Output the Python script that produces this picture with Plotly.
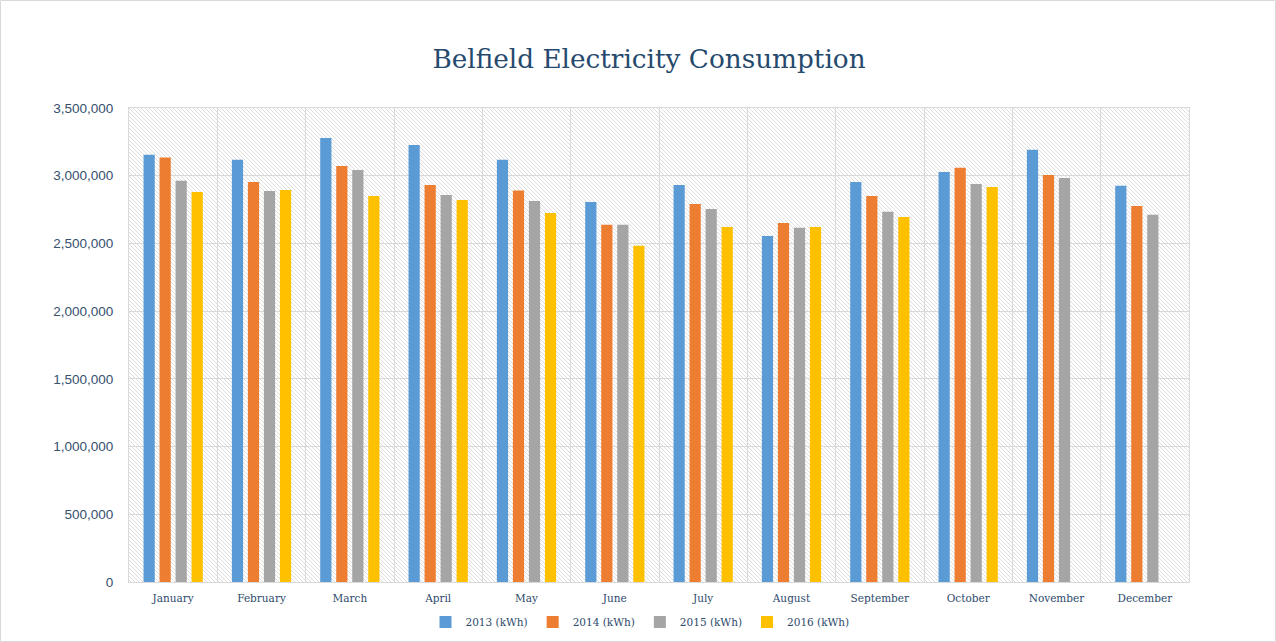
import plotly.graph_objects as go
import urllib.parse

months = ["January", "February", "March", "April", "May", "June", "July",
          "August", "September", "October", "November", "December"]
series_names = ["2013 (kWh)", "2014 (kWh)", "2015 (kWh)", "2016 (kWh)"]
values_2013 = [3154000, 3117000, 3279000, 3227000, 3117000, 2806000, 2932000,
               2555000, 2954000, 3028000, 3191000, 2925000]
values_2014 = [3134000, 2954000, 3072000, 2932000, 2890000, 2637000, 2792000,
               2651000, 2851000, 3058000, 3006000, 2777000]
values_2015 = [2962000, 2888000, 3043000, 2858000, 2814000, 2637000, 2755000,
               2615000, 2733000, 2939000, 2984000, 2711000]
values_2016 = [2880000, 2895000, 2851000, 2821000, 2725000, 2482000, 2622000,
               2622000, 2696000, 2917000, None, None]
colors = ["#5b9bd5", "#ed7d31", "#a5a5a5", "#ffc000"]

W, H = 1276, 642
ML, MR, MT, MB = 129, 87, 108, 60
PW, PH = W - ML - MR, H - MT - MB

fig = go.Figure()
for name, vals, col in zip(series_names, [values_2013, values_2014, values_2015, values_2016], colors):
    fig.add_trace(go.Bar(x=months, y=vals, name=name, marker=dict(color=col, line=dict(width=0))))

# hatch background for the plot area
svg = (f"<svg xmlns='http://www.w3.org/2000/svg' width='{PW}' height='{PH}' viewBox='0 0 {PW} {PH}' preserveAspectRatio='none'>"
       "<defs><pattern id='p' width='4' height='4' patternUnits='userSpaceOnUse'>"
       "<path d='M-1,-1 L5,5 M-1,3 L1,5 M3,-1 L5,1' stroke='#d4d4d4' stroke-width='0.8'/>"
       "</pattern></defs><rect width='100%' height='100%' fill='white'/>"
       "<rect width='100%' height='100%' fill='url(#p)'/></svg>")
src = "data:image/svg+xml;charset=utf-8," + urllib.parse.quote(svg)

SERIF = "Roboto Slab, DejaVu Serif, serif"
fig.update_layout(
    width=W, height=H,
    margin=dict(l=ML, r=MR, t=MT, b=MB, pad=0, autoexpand=False),
    paper_bgcolor="white", plot_bgcolor="white",
    barmode="group", bargap=0.275, bargroupgap=0.3,
    title=dict(text="Belfield Electricity Consumption", x=649 / W, xref="container", xanchor="center",
               y=1 - 59 / H, yref="container", yanchor="middle",
               font=dict(family=SERIF, size=26.3, color="#264a6e")),
    showlegend=True,
    legend=dict(orientation="h", x=640 / W, xref="container", xanchor="center",
                y=1 - 622 / H, yref="container", yanchor="middle",
                font=dict(family=SERIF, size=10.5, color="#2e4a6b"),
                itemwidth=30, traceorder="normal"),
    images=[dict(source=src, xref="paper", yref="paper", x=0, y=1, sizex=1, sizey=1,
                 sizing="stretch", xanchor="left", yanchor="top", layer="below")],
    shapes=[dict(type="rect", xref="paper", yref="paper",
                 x0=-(ML - 0.5) / PW, x1=(W - ML - 0.5) / PW,
                 y0=-(MB - 0.5) / PH, y1=(H - MB - 0.5) / PH,
                 line=dict(color="#d9d9d9", width=1), fillcolor="rgba(0,0,0,0)", layer="below")],
)
fig.update_xaxes(type="category", tickson="boundaries", showgrid=True, gridcolor="#d9d9d9", gridwidth=1,
                 showline=True, linecolor="#d9d9d9", mirror=True, ticks="", ticklen=0,
                 ticklabelstandoff=6, automargin=False,
                 tickfont=dict(family=SERIF, size=10.5, color="#2e4a6b"))
fig.update_yaxes(range=[0, 3500000], dtick=500000, tickformat=",", showgrid=True, gridcolor="#d9d9d9",
                 gridwidth=1, showline=True, linecolor="#d9d9d9", mirror=True, zeroline=False, ticks="",
                 ticklen=0, ticklabelstandoff=12, automargin=False,
                 tickfont=dict(family="Liberation Sans, Arial, sans-serif", size=13.5, color="#36506e"))

fig.write_html("out.html", config={"displayModeBar": False},
               post_script="document.body.style.margin='0';document.body.style.padding='0';"
                           "document.documentElement.style.overflow='hidden';")
